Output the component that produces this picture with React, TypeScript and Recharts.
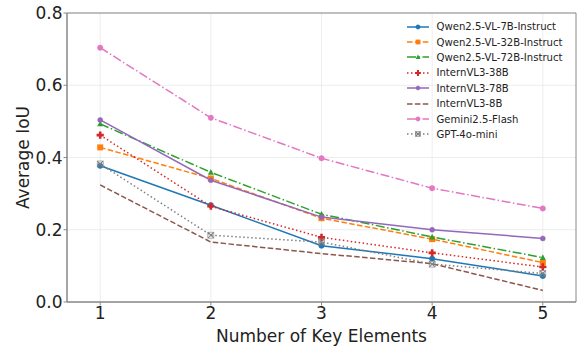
import React from 'react';
import { LineChart, Line, XAxis, YAxis, CartesianGrid, ReferenceArea, Legend } from 'recharts';

const keyElements = [1, 2, 3, 4, 5];
const yTicks = [0, 0.2, 0.4, 0.6, 0.8];

const qwen7b = [0.377, 0.268, 0.156, 0.12, 0.072];
const qwen32b = [0.428, 0.342, 0.232, 0.174, 0.109];
const qwen72b = [0.493, 0.359, 0.243, 0.18, 0.123];
const intern38b = [0.462, 0.265, 0.179, 0.136, 0.097];
const intern78b = [0.504, 0.337, 0.235, 0.2, 0.176];
const intern8b = [0.324, 0.166, 0.134, 0.106, 0.032];
const gemini = [0.704, 0.51, 0.398, 0.315, 0.259];
const gpt4omini = [0.382, 0.185, 0.166, 0.105, 0.079];

const seriesNames = [
  'Qwen2.5-VL-7B-Instruct',
  'Qwen2.5-VL-32B-Instruct',
  'Qwen2.5-VL-72B-Instruct',
  'InternVL3-38B',
  'InternVL3-78B',
  'InternVL3-8B',
  'Gemini2.5-Flash',
  'GPT-4o-mini',
];
const seriesValues = [qwen7b, qwen32b, qwen72b, intern38b, intern78b, intern8b, gemini, gpt4omini];

type Style = { color: string; dash?: string; marker: string };
const styles: Style[] = [
  { color: '#1f77b4', marker: 'circle' },
  { color: '#ff7f0e', dash: '5.5 2.4', marker: 'square' },
  { color: '#2ca02c', dash: '9 2.5 1.5 2.5', marker: 'triangle' },
  { color: '#d62728', dash: '1.5 2.5', marker: 'plus' },
  { color: '#9467bd', marker: 'smallcircle' },
  { color: '#8c564b', dash: '5.5 2.4', marker: 'none' },
  { color: '#e377c2', dash: '9 2.5 1.5 2.5', marker: 'circle' },
  { color: '#7f7f7f', dash: '1.5 2.5', marker: 'x' },
];

const data = keyElements.map((k, i) => {
  const row: Record<string, number> = { k };
  seriesNames.forEach((n, j) => {
    row[n] = seriesValues[j][i];
  });
  return row;
});

const FONT = '"DejaVu Sans", sans-serif';

function Marker({ type, cx, cy, color, scale = 1 }: { type: string; cx: number; cy: number; color: string; scale?: number }) {
  const k = scale;
  switch (type) {
    case 'circle':
      return <circle cx={cx} cy={cy} r={2.7 * k} fill={color} stroke={color} strokeWidth={0.5} />;
    case 'smallcircle':
      return <circle cx={cx} cy={cy} r={2.5 * k} fill={color} stroke={color} strokeWidth={0.5} />;
    case 'square':
      return <rect x={cx - 3 * k} y={cy - 3 * k} width={6 * k} height={6 * k} fill={color} />;
    case 'triangle':
      return <polygon points={`${cx},${cy - 3.2 * k} ${cx - 3 * k},${cy + 2.4 * k} ${cx + 3 * k},${cy + 2.4 * k}`} fill={color} />;
    case 'plus': {
      const a = 3.6 * k;
      const b = 1.3 * k;
      return (
        <polygon
          points={`${cx - b},${cy - a} ${cx + b},${cy - a} ${cx + b},${cy - b} ${cx + a},${cy - b} ${cx + a},${cy + b} ${cx + b},${cy + b} ${cx + b},${cy + a} ${cx - b},${cy + a} ${cx - b},${cy + b} ${cx - a},${cy + b} ${cx - a},${cy - b} ${cx - b},${cy - b}`}
          fill={color}
        />
      );
    }
    case 'x':
      return (
        <g stroke={color} strokeWidth={1.1} fill="none">
          <line x1={cx - 2.8 * k} y1={cy - 2.8 * k} x2={cx + 2.8 * k} y2={cy + 2.8 * k} />
          <line x1={cx - 2.8 * k} y1={cy + 2.8 * k} x2={cx + 2.8 * k} y2={cy - 2.8 * k} />
          <rect x={cx - 3 * k} y={cy - 3 * k} width={6 * k} height={6 * k} strokeWidth={0.6} />
        </g>
      );
    default:
      return <g />;
  }
}

const renderLegend = () => (
  <div style={{ fontFamily: FONT, fontSize: 10.1, color: '#222' }}>
    {seriesNames.map((name, i) => {
      const s = styles[i];
      return (
        <div key={name} style={{ display: 'flex', alignItems: 'center', height: 15.4 }}>
          <svg width={30} height={12} style={{ display: 'block' }}>
            <line x1={2} y1={6} x2={24} y2={6} stroke={s.color} strokeWidth={1.5} strokeDasharray={s.dash} />
            <Marker type={s.marker} cx={13} cy={6} color={s.color} scale={0.8} />
          </svg>
          <span style={{ marginLeft: 2, whiteSpace: 'nowrap' }}>{name}</span>
        </div>
      );
    })}
  </div>
);

export default function App() {
  return (
    <div style={{ position: 'absolute', left: 0, top: 0, background: '#fff' }}>
      <LineChart width={577} height={347} data={data} margin={{ top: 13, right: 1, bottom: 0, left: 0 }}>
        <CartesianGrid stroke="#e9e9e9" strokeWidth={0.8} verticalValues={keyElements} horizontalValues={yTicks} />
        <XAxis
          dataKey="k"
          type="number"
          domain={[0.7, 5.3]}
          ticks={keyElements}
          height={45}
          axisLine={{ stroke: '#888', strokeWidth: 1 }}
          tickLine={{ stroke: '#888' }}
          tickSize={3.5}
          tickMargin={1}
          tick={{ fontFamily: FONT, fontSize: 17, fill: '#222' }}
          label={{ value: 'Number of Key Elements', position: 'insideBottom', offset: 5, style: { fontFamily: FONT, fontSize: 17, fill: '#222' } }}
        />
        <YAxis
          type="number"
          domain={[0, 0.8]}
          ticks={yTicks}
          width={67}
          axisLine={{ stroke: '#888', strokeWidth: 1 }}
          tickLine={{ stroke: '#888' }}
          tickSize={3.5}
          tickMargin={1}
          tickFormatter={(v: number) => v.toFixed(1)}
          tick={{ fontFamily: FONT, fontSize: 17, fill: '#222' }}
          label={{
            content: (props: any) => {
              const vb = props.viewBox || { x: 0, y: 13, width: 67, height: 289 };
              const cx = vb.x + 28.5;
              const cy = vb.y + vb.height / 2;
              return (
                <text x={cx} y={cy} transform={`rotate(-90, ${cx}, ${cy})`} textAnchor="middle" fontFamily={FONT} fontSize={17} fill="#222">
                  Average IoU
                </text>
              );
            },
          }}
        />
        <ReferenceArea x1={0.7} x2={5.3} y1={0} y2={0.8} fill="none" stroke="#888" strokeWidth={1} ifOverflow="visible" />
        {seriesNames.map((name, i) => {
          const s = styles[i];
          return (
            <Line
              key={name}
              dataKey={name}
              stroke={s.color}
              strokeWidth={1.5}
              strokeDasharray={s.dash}
              isAnimationActive={false}
              dot={(p: any) => (
                <g key={`${name}-${p.index}`}>
                  <Marker type={s.marker} cx={p.cx} cy={p.cy} color={s.color} />
                </g>
              )}
              activeDot={false}
            />
          );
        })}
        <Legend
          layout="vertical"
          align="center"
          verticalAlign="middle"
          content={renderLegend}
          wrapperStyle={{ position: 'absolute', left: 404.5, top: 19, width: 172, height: 'auto' }}
        />
      </LineChart>
    </div>
  );
}
